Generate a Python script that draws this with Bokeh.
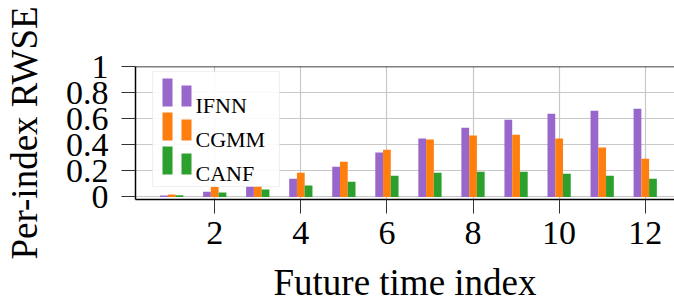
from bokeh.plotting import figure
from bokeh.models import (FixedTicker, Range1d, Span, BoxAnnotation, Label)
from bokeh.embed import file_html
from bokeh.resources import INLINE

# ---- data ----
idx = [1, 2, 3, 4, 5, 6, 7, 8, 9, 10, 11, 12]
ifnn = [0.010, 0.040, 0.080, 0.140, 0.232, 0.340, 0.447, 0.531, 0.592, 0.638, 0.661, 0.676]
cgmm = [0.018, 0.075, 0.080, 0.186, 0.270, 0.362, 0.440, 0.470, 0.477, 0.447, 0.378, 0.293]
canf = [0.012, 0.033, 0.056, 0.087, 0.117, 0.163, 0.186, 0.193, 0.193, 0.178, 0.163, 0.140]
series_names = ["IFNN", "CGMM", "CANF"]
x_ticks = [2, 4, 6, 8, 10, 12]
y_ticks = [0, 0.2, 0.4, 0.6, 0.8, 1]
y_tick_labels = ["0", "0.2", "0.4", "0.6", "0.8", "1"]

colors = ["#9966CC", "#FF7F0E", "#2CA02C"]
FONT = "Liberation Serif"
bw = 0.18

p = figure(width=674, height=305, output_backend="svg", toolbar_location=None,
           x_range=Range1d(0.16, 12.68), y_range=Range1d(-0.02, 1.0),
           min_border_left=133, min_border_right=0, min_border_top=66,
           min_border_bottom=106)
p.outline_line_color = None

for vals, off, c in zip([ifnn, cgmm, canf], [-bw, 0.0, bw], colors):
    p.vbar(x=[i + off for i in idx], top=vals, bottom=0, width=bw,
           fill_color=c, line_color=None)

# top frame line
p.add_layout(Span(location=1.0, dimension="width", line_color="black", line_width=1.5))

for ax in (p.xaxis[0], p.yaxis[0]):
    ax.axis_line_color = "black"
    ax.axis_line_width = 1.5
    ax.major_tick_line_color = "#333333"
    ax.major_tick_line_width = 1
    ax.major_tick_out = 14
    ax.major_tick_in = 0
    ax.minor_tick_line_color = None
    ax.major_label_text_font = FONT
    ax.major_label_text_font_size = "34px"
    ax.major_label_text_color = "black"
    ax.axis_label_text_font = FONT
    ax.axis_label_text_font_size = "37px"
    ax.axis_label_text_font_style = "normal"
    ax.axis_label_text_color = "black"

p.xaxis.ticker = FixedTicker(ticks=x_ticks)
p.yaxis.ticker = FixedTicker(ticks=y_ticks)
p.yaxis.major_label_overrides = {t: l for t, l in zip(y_ticks, y_tick_labels)}
p.xaxis.axis_label = "Future time index"
p.yaxis.axis_label = "Per-index RWSE"
p.xaxis.major_label_standoff = 8
p.yaxis.major_label_standoff = 13
p.xaxis.axis_label_standoff = 15
p.yaxis.axis_label_standoff = 18

p.xgrid.ticker = FixedTicker(ticks=x_ticks)
p.grid.grid_line_color = "#c8c8c8"
p.grid.grid_line_width = 1.2

# ---- legend (manual, two patches per entry) ----
p.add_layout(BoxAnnotation(left=17, right=144, bottom=13, top=128,
                           left_units="screen", right_units="screen",
                           bottom_units="screen", top_units="screen",
                           fill_color="white", fill_alpha=0.9,
                           line_color="#cccccc", line_width=1.2, level="annotation"))
row_bottoms = [93, 59, 25]
for name, c, b in zip(series_names, colors, row_bottoms):
    p.add_layout(BoxAnnotation(left=27, right=37, bottom=b, top=b + 28,
                               left_units="screen", right_units="screen",
                               bottom_units="screen", top_units="screen",
                               fill_color=c, fill_alpha=1, line_color=None, level="annotation"))
    p.add_layout(BoxAnnotation(left=46, right=56, bottom=b, top=b + 21,
                               left_units="screen", right_units="screen",
                               bottom_units="screen", top_units="screen",
                               fill_color=c, fill_alpha=1, line_color=None, level="annotation"))
    p.add_layout(Label(x=60, y=b + 1, x_units="screen", y_units="screen", text=name,
                       text_font=FONT, text_font_size="22px", text_color="black",
                       text_baseline="alphabetic", level="annotation"))

open("out.html", "w").write(file_html(p, INLINE))
